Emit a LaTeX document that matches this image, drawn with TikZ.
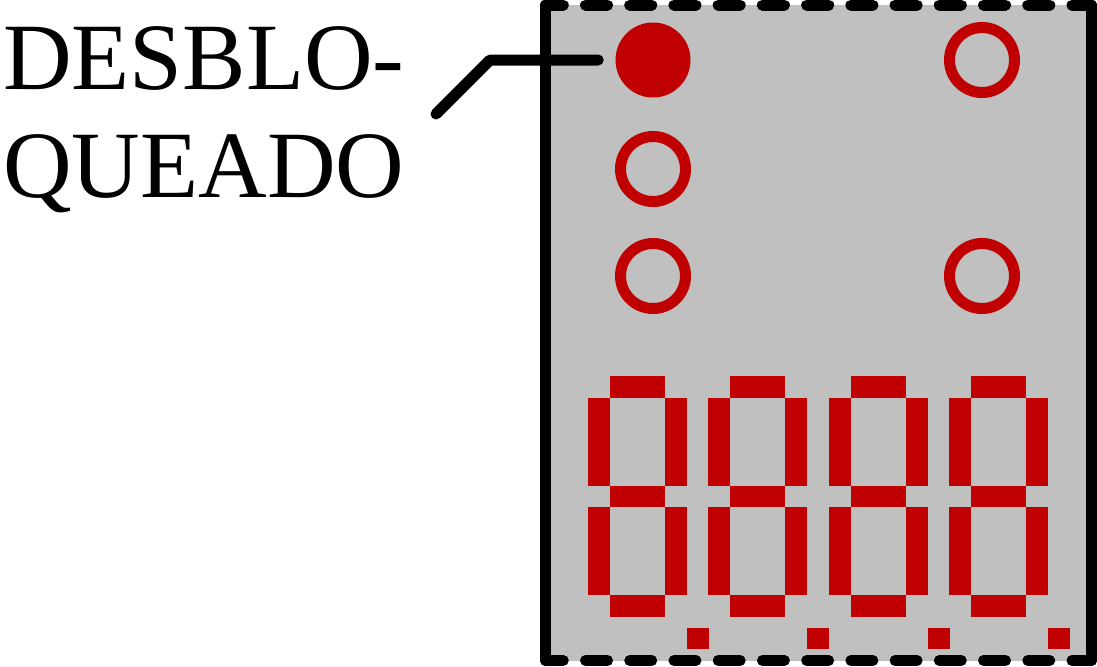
\documentclass[tikz,border=0pt]{standalone}
\usepackage{fontspec}
\setmainfont{Liberation Serif}
\definecolor{panelgray}{RGB}{192,192,192}
\definecolor{ledred}{RGB}{192,0,0}
\tikzset{
  thickline/.style={line width=7.82pt, line cap=round, line join=round},
  dashline/.style={thickline, dash pattern=on 15.65pt off 15.8pt, dash phase=3pt},
  ledon/.style={circle, fill=ledred, inner sep=0pt, minimum size=1.875cm},
  ledoff/.style={circle, draw=ledred, line width=7.82pt, inner sep=0pt, minimum size=1.625cm},
  seg/.style={fill=ledred}
}
\begin{document}
\begin{tikzpicture}[x=0.025cm, y=-0.025cm]
    \useasboundingbox (0,0) rectangle (1097,666);
    % panel
    \fill[panelgray] (545.5,5) rectangle (1091.5,660.5);
    \draw[thickline] (545.5,5) -- (545.5,660.5);
    \draw[thickline] (1091.5,5) -- (1091.5,660.5);
    \draw[dashline] (545.5,5) -- (1091.5,5);
    \draw[dashline] (545.5,660.5) -- (1091.5,660.5);
    % leds
    \node[ledon]  (ledA) at (653,60) {};
    \node[ledoff] (ledB) at (653,169) {};
    \node[ledoff] (ledC) at (653,276) {};
    \node[ledoff] (ledD) at (982,60) {};
    \node[ledoff] (ledE) at (982,276) {};
    % seven segment digits
    \foreach \i in {0,...,3} {
      \pgfmathsetmacro{\xo}{588+120.33*\i}
      \fill[seg] (\xo+22,376) rectangle (\xo+77,398);
      \fill[seg] (\xo,398) rectangle (\xo+22,486);
      \fill[seg] (\xo+77,398) rectangle (\xo+99,486);
      \fill[seg] (\xo+22,486) rectangle (\xo+77,507);
      \fill[seg] (\xo,507) rectangle (\xo+22,595);
      \fill[seg] (\xo+77,507) rectangle (\xo+99,595);
      \fill[seg] (\xo+22,595) rectangle (\xo+77,617);
      \fill[seg] (\xo+99,628) rectangle (\xo+121,649);
    }
    % label
    \node[anchor=base west, inner sep=0pt, align=left,
          font=\fontsize{67.6pt}{76.1pt}\selectfont] (lbl) at (3,197) {DESBLO-\\QUEADO};
    \coordinate (tail) at (436,114);
    \draw[thickline] (tail) -- ++(54,-54) -- ([xshift=-0.425cm]ledA.west);
  \end{tikzpicture}
\end{document}
